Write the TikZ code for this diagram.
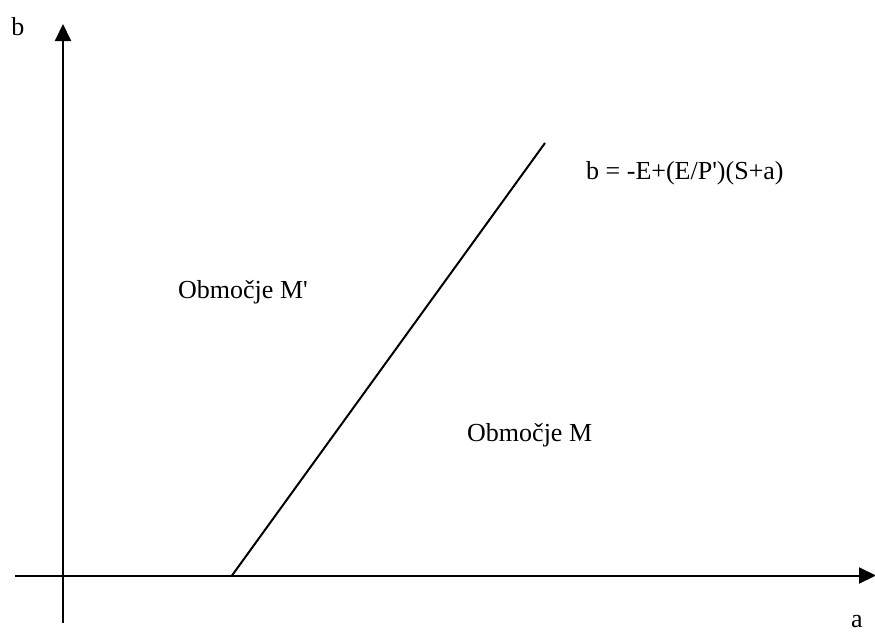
\documentclass[tikz,border=0pt]{standalone}
\usepackage{fontspec}
\setmainfont{Liberation Serif}
\usetikzlibrary{arrows.meta}
\newcommand{\sq}{\XeTeXglyph\XeTeXglyphindex"quotesingle"\relax}
\begin{document}
\begin{tikzpicture}[x=1pt,y=-1pt,
  axis/.style={line width=2pt,-{Triangle[length=17pt,width=16pt]}},
  lbl/.style={font=\fontsize{26}{30}\selectfont,inner sep=0pt}]
\useasboundingbox (0,0) rectangle (875,633);
\coordinate (xs) at (15,575.5);
\coordinate (xe) at (876,575.5);
\coordinate (ys) at (63,623);
\coordinate (ye) at (63,24);
\draw[axis] (xs) -- (xe);
\draw[axis] (ys) -- (ye);
\coordinate (l1) at (232,575.5);
\coordinate (l2) at (545,143);
\draw[line width=2pt] (l1) -- (l2);
\node[lbl] (b) at (18,27) {b};
\node[lbl] (a) at (857,622) {a};
\node[lbl,anchor=west] (f) at (586,173) {b = -E+(E/P\sq)(S+a)};
\node[lbl,anchor=west] (m1) at (178,292) {Območje M\sq};
\node[lbl,anchor=west] (m2) at (467,435) {Območje M};
\end{tikzpicture}
\end{document}
